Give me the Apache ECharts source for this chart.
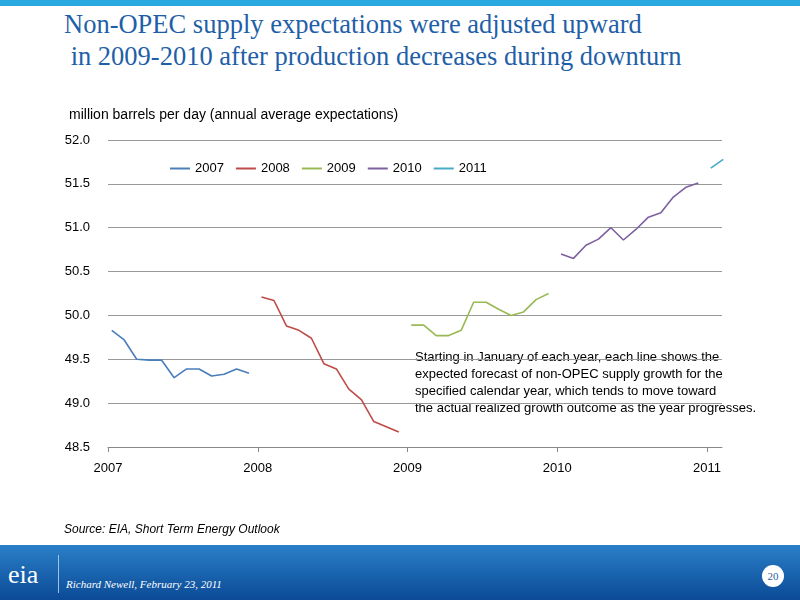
<!DOCTYPE html>
<html lang="en">
<head>
<meta charset="UTF-8">
<title>Non-OPEC supply</title>
<script src="https://cdn.jsdelivr.net/npm/echarts@6/dist/echarts.min.js"></script>
<style>
body{margin:0;width:800px;height:600px;position:relative;background:#fff;overflow:hidden;font-family:"Liberation Sans",Arial,sans-serif}
#top{position:absolute;left:0;top:0;width:800px;height:6px;background:#29a9df}
#title{position:absolute;left:64px;top:8px;font-family:"Liberation Serif",serif;font-size:26.5px;line-height:32px;color:#1f5fa8}
#chart{position:absolute;left:0;top:0;width:800px;height:600px}
#src{position:absolute;left:64px;top:522px;font-size:12px;font-style:italic}
#foot{position:absolute;left:0;top:545px;width:800px;height:55px;background:linear-gradient(#2a7fc8,#0b4a96)}
#logo{position:absolute;left:8px;top:560px;font-size:26px;color:#fff;font-family:"Liberation Serif",serif}
#sep{position:absolute;left:58px;top:555px;width:1px;height:38px;background:#9cc3e6}
#auth{position:absolute;left:66px;top:578px;font-family:"Liberation Serif",serif;font-style:italic;font-size:11px;color:#fff}
#pg{position:absolute;left:762px;top:565px;width:22px;height:22px;border-radius:11px;background:#fff;color:#1f5fa8;font-family:"Liberation Serif",serif;font-size:11px;text-align:center;line-height:22px}
</style>
</head>
<body>
<div id="top"></div>
<div id="title">Non-OPEC supply expectations were adjusted upward<br>&nbsp;in 2009-2010 after production decreases during downturn</div>
<div id="chart"></div>
<div id="src">Source: EIA, Short Term Energy Outlook</div>
<div id="foot"></div>
<div id="logo">eia</div>
<div id="sep"></div>
<div id="auth">Richard Newell, February 23, 2011</div>
<div id="pg">20</div>
<script>
var years = ['2007', '2008', '2009', '2010', '2011'];
var colors = ['#4a7ebb', '#be4b48', '#98b954', '#7d60a0', '#46aac5'];
var v2007 = [49.83, 49.72, 49.50, 49.49, 49.49, 49.29, 49.39, 49.39, 49.31, 49.33, 49.39, 49.34];
var v2008 = [50.21, 50.17, 49.88, 49.83, 49.74, 49.45, 49.39, 49.16, 49.04, 48.79, 48.73, 48.67];
var v2009 = [49.89, 49.89, 49.77, 49.77, 49.83, 50.15, 50.15, 50.07, 50.00, 50.04, 50.18, 50.25];
var v2010 = [50.70, 50.65, 50.80, 50.87, 51.00, 50.86, 50.98, 51.12, 51.17, 51.35, 51.46, 51.51];
var v2011 = [51.68, 51.78];
var allVals = [v2007, v2008, v2009, v2010, v2011];

var series = allVals.map(function (vals, k) {
    return {
        name: years[k],
        type: 'line',
        symbol: 'none',
        lineStyle: {width: 1.6, color: colors[k]},
        itemStyle: {color: colors[k]},
        data: vals.map(function (v, m) { return [k * 12 + m + 0.3, v]; })
    };
});

var chart = echarts.init(document.getElementById('chart'));
chart.setOption({
    animation: false,
    textStyle: {fontFamily: 'Liberation Sans'},
    title: {text: 'million barrels per day (annual average expectations)', left: 64, top: 103,
        textStyle: {fontSize: 14, fontWeight: 'normal', color: '#000'}},
    legend: {data: years, top: 157, left: 165, itemWidth: 20, itemHeight: 2, itemGap: 12,
        icon: 'rect', textStyle: {fontSize: 13, color: '#000'}},
    grid: {left: 108, right: 78, top: 140, bottom: 153},
    xAxis: {type: 'value', min: 0, max: 49.2, interval: 12,
        axisLine: {lineStyle: {color: '#888'}},
        axisTick: {show: true, length: 5, lineStyle: {color: '#888'}},
        axisLabel: {color: '#000', fontSize: 13, margin: 15, showMaxLabel: false,
            formatter: function (v) { return years[v / 12] || ''; }},
        splitLine: {show: false}},
    yAxis: {type: 'value', min: 48.5, max: 52, interval: 0.5,
        axisLine: {show: false}, axisTick: {show: false},
        axisLabel: {color: '#000', fontSize: 13, margin: 18, formatter: function (v) { return v.toFixed(1); }},
        splitLine: {lineStyle: {color: '#999', width: 1}}},
    graphic: [{type: 'text', left: 415, top: 349, style: {
        text: 'Starting in January of each year, each line shows the\nexpected forecast of non-OPEC supply growth for the\nspecified calendar year, which tends to move toward\nthe actual realized growth outcome as the year progresses.',
        fontSize: 13, lineHeight: 17, fill: '#000', fontFamily: 'Liberation Sans', backgroundColor: '#fff'}}],
    series: series
});
</script>
</body>
</html>
